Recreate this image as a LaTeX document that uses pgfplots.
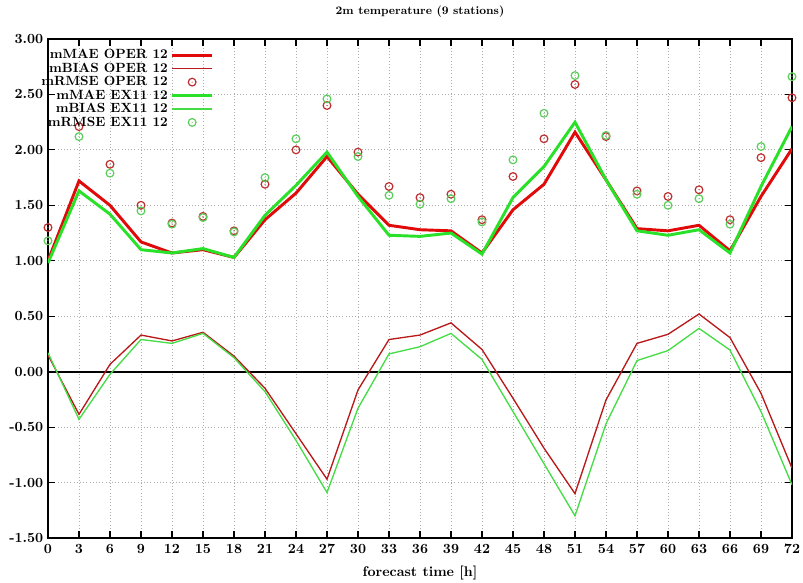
\documentclass[border=0pt]{standalone}
\usepackage{pgfplots}
\pgfplotsset{compat=1.18}
\usepackage{pgfplotstable}
\definecolor{redA}{RGB}{225,10,10}
\definecolor{redB}{RGB}{185,25,25}
\definecolor{redC}{RGB}{190,45,45}
\definecolor{grnA}{RGB}{40,225,40}
\definecolor{grnB}{RGB}{70,220,70}
\definecolor{grnC}{RGB}{90,205,90}
\pgfdeclareplotmark{circdot}{%
  \pgfpathcircle{\pgfpointorigin}{\pgfplotmarksize}\pgfusepathqstroke
  \pgfpathcircle{\pgfpointorigin}{0.45pt}\pgfusepathqfill}
\pgfplotsset{
  lineleg/.style={legend image code/.code={\draw[##1] (0cm,0cm) -- (1.06cm,0cm);}},
  markleg/.style={legend image code/.code={\path (0cm,0cm) (1.06cm,0cm); \draw[##1] plot coordinates {(0.53cm,0cm)};}},
}
\pgfplotstableread{
x   maeO  biasO   rmseO maeE  biasE  rmseE
0   1.00  0.15    1.30  0.98  0.17   1.18
3   1.72  -0.385  2.21  1.63  -0.43  2.12
6   1.50  0.066   1.87  1.42  -0.024 1.79
9   1.17  0.33    1.50  1.10  0.29   1.45
12  1.07  0.277   1.34  1.07  0.255  1.33
15  1.10  0.355   1.40  1.11  0.345  1.39
18  1.03  0.14    1.27  1.03  0.126  1.26
21  1.37  -0.15   1.69  1.41  -0.18  1.75
24  1.61  -0.56   2.00  1.68  -0.62  2.10
27  1.94  -0.97   2.40  1.98  -1.09  2.46
30  1.60  -0.165  1.98  1.58  -0.33  1.94
33  1.32  0.29    1.67  1.23  0.16   1.59
36  1.28  0.33    1.57  1.22  0.225  1.51
39  1.27  0.44    1.60  1.25  0.345  1.56
42  1.07  0.20    1.37  1.06  0.11   1.35
45  1.46  -0.24   1.76  1.57  -0.36  1.91
48  1.69  -0.69   2.10  1.85  -0.83  2.33
51  2.16  -1.10   2.59  2.25  -1.30  2.67
54  1.73  -0.255  2.12  1.73  -0.47  2.13
57  1.29  0.255   1.63  1.27  0.10   1.60
60  1.27  0.337   1.58  1.23  0.19   1.50
63  1.32  0.52    1.64  1.28  0.39   1.56
66  1.09  0.307   1.37  1.07  0.195  1.33
69  1.58  -0.195  1.93  1.67  -0.36  2.03
72  2.01  -0.87   2.47  2.21  -1.02  2.66
}\data
\begin{document}
\begin{tikzpicture}
\begin{axis}[
  scale only axis,
  width=558pt, height=374.25pt,
  xmin=0, xmax=72, ymin=-1.5, ymax=3,
  xtick={0,3,...,72},
  ytick={-1.5,-1,-0.5,0,0.5,1,1.5,2,2.5,3},
  yticklabels={-1.50,-1.00,-0.50,0.00,0.50,1.00,1.50,2.00,2.50,3.00},
  /pgf/number format/assume math mode=true,
  tick label style={font=\bfseries\fontsize{10.5}{12}\selectfont, black},
  xticklabel style={yshift=-1pt},
  tick align=inside,
  major tick length=5pt,
  tick style={black, line width=0.8pt},
  axis line style={black, line width=1.1pt},
  grid=major,
  major grid style={gray!65, dotted, line width=0.6pt},
  title={2m temperature (9 stations)},
  title style={at={(0.5,1)}, anchor=base, yshift=12.5pt, font=\bfseries\fontsize{8.6}{10}\selectfont},
  xlabel={forecast time [h]},
  xlabel style={at={(0.5,0)}, anchor=base, yshift=-29pt, font=\bfseries\fontsize{10.5}{12}\selectfont},
  legend style={at={(0.2285,0.99)}, anchor=north east, draw=none, fill=none,
    font=\bfseries\fontsize{10}{11}\selectfont, row sep=-2.4pt,
    /tikz/every even column/.append style={column sep=4pt}},
  legend cell align=right,
  legend plot pos=right,
  lineleg,
]
\addplot[black, line width=1.3pt, forget plot] coordinates {(0,0) (72,0)};
\addplot[redA, line width=2.2pt] table[x=x, y=maeO] {\data};
\addlegendentry{mMAE OPER 12}
\addplot[redB, line width=1pt] table[x=x, y=biasO] {\data};
\addlegendentry{mBIAS OPER 12}
\addplot[redC, only marks, mark=circdot, mark size=2.9pt, mark options={line width=0.9pt}, markleg] table[x=x, y=rmseO] {\data};
\addlegendentry{mRMSE OPER 12}
\addplot[grnA, line width=2.2pt] table[x=x, y=maeE] {\data};
\addlegendentry{mMAE EX11 12}
\addplot[grnB, line width=1pt] table[x=x, y=biasE] {\data};
\addlegendentry{mBIAS EX11 12}
\addplot[grnC, only marks, mark=circdot, mark size=2.9pt, mark options={line width=0.9pt}, markleg] table[x=x, y=rmseE] {\data};
\addlegendentry{mRMSE EX11 12}
\end{axis}
\pgfresetboundingbox
\path ([xshift=-36pt,yshift=-33pt]current axis.south west) rectangle ([xshift=8.25pt,yshift=29.25pt]current axis.north east);
\end{tikzpicture}
\end{document}
